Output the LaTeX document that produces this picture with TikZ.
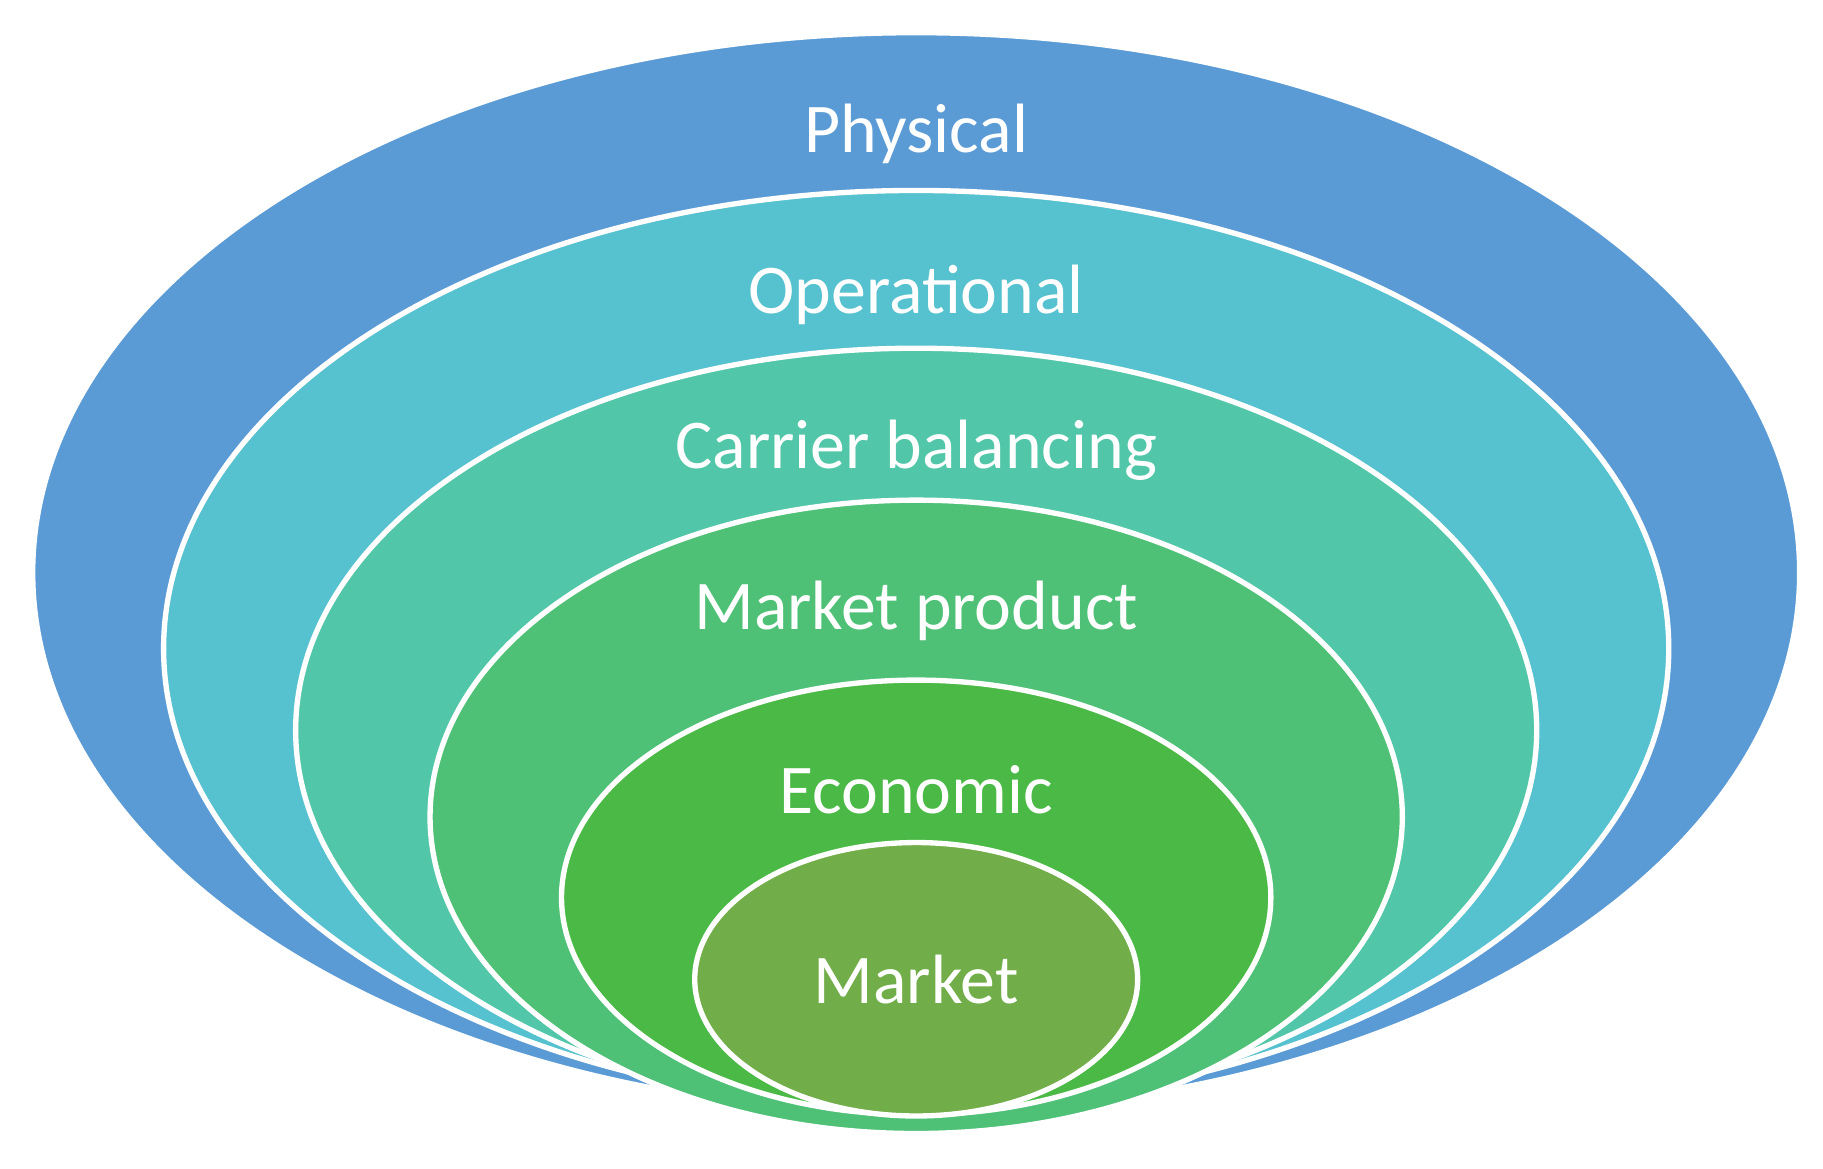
\documentclass[tikz,border=0pt]{standalone}
\usepackage{fontspec}
\setmainfont{Carlito}
\usetikzlibrary{shapes.geometric}
\definecolor{cphys}{HTML}{5B9BD5}
\definecolor{coper}{HTML}{56C1CF}
\definecolor{ccarr}{HTML}{52C6A8}
\definecolor{cprod}{HTML}{4FC177}
\definecolor{cecon}{HTML}{4BB946}
\definecolor{cmark}{HTML}{71AD48}
\tikzset{
  layer/.style={ellipse, draw=white, line width=1.3pt, inner sep=0pt},
  lbl/.style={text=white, font=\fontsize{17}{20}\selectfont}
}
\begin{document}
\begin{tikzpicture}
  \useasboundingbox (0,0) rectangle (15.6,10);
  \node[layer, fill=cphys, minimum width=15.12cm, minimum height=9.24cm] (physical) at (7.84,5.10) {};
  \node[layer, fill=coper, minimum width=12.88cm, minimum height=7.84cm] (operational) at (7.84,4.45) {};
  \node[layer, fill=ccarr, minimum width=10.62cm, minimum height=6.54cm] (carrier) at (7.84,3.75) {};
  \node[layer, fill=cprod, minimum width=8.32cm, minimum height=5.42cm] (product) at (7.84,3.01) {};
  \node[layer, fill=cecon, minimum width=6.07cm, minimum height=3.72cm] (economic) at (7.84,2.32) {};
  \node[layer, fill=cmark, minimum width=3.79cm, minimum height=2.34cm] (market) at (7.84,1.62) {};

  % Labels
  \node[lbl] (l-physical) at (7.84,8.85) {Physical};
  \node[lbl] (l-operational) at (7.84,7.48) {Operational};
  \node[lbl] (l-carrier) at (7.84,6.15) {Carrier balancing};
  \node[lbl] (l-product) at (7.84,4.77) {Market product};
  \node[lbl] (l-economic) at (7.84,3.24) {Economic};
  \node[lbl] (l-market) at (7.84,1.62) {Market};
\end{tikzpicture}
\end{document}
